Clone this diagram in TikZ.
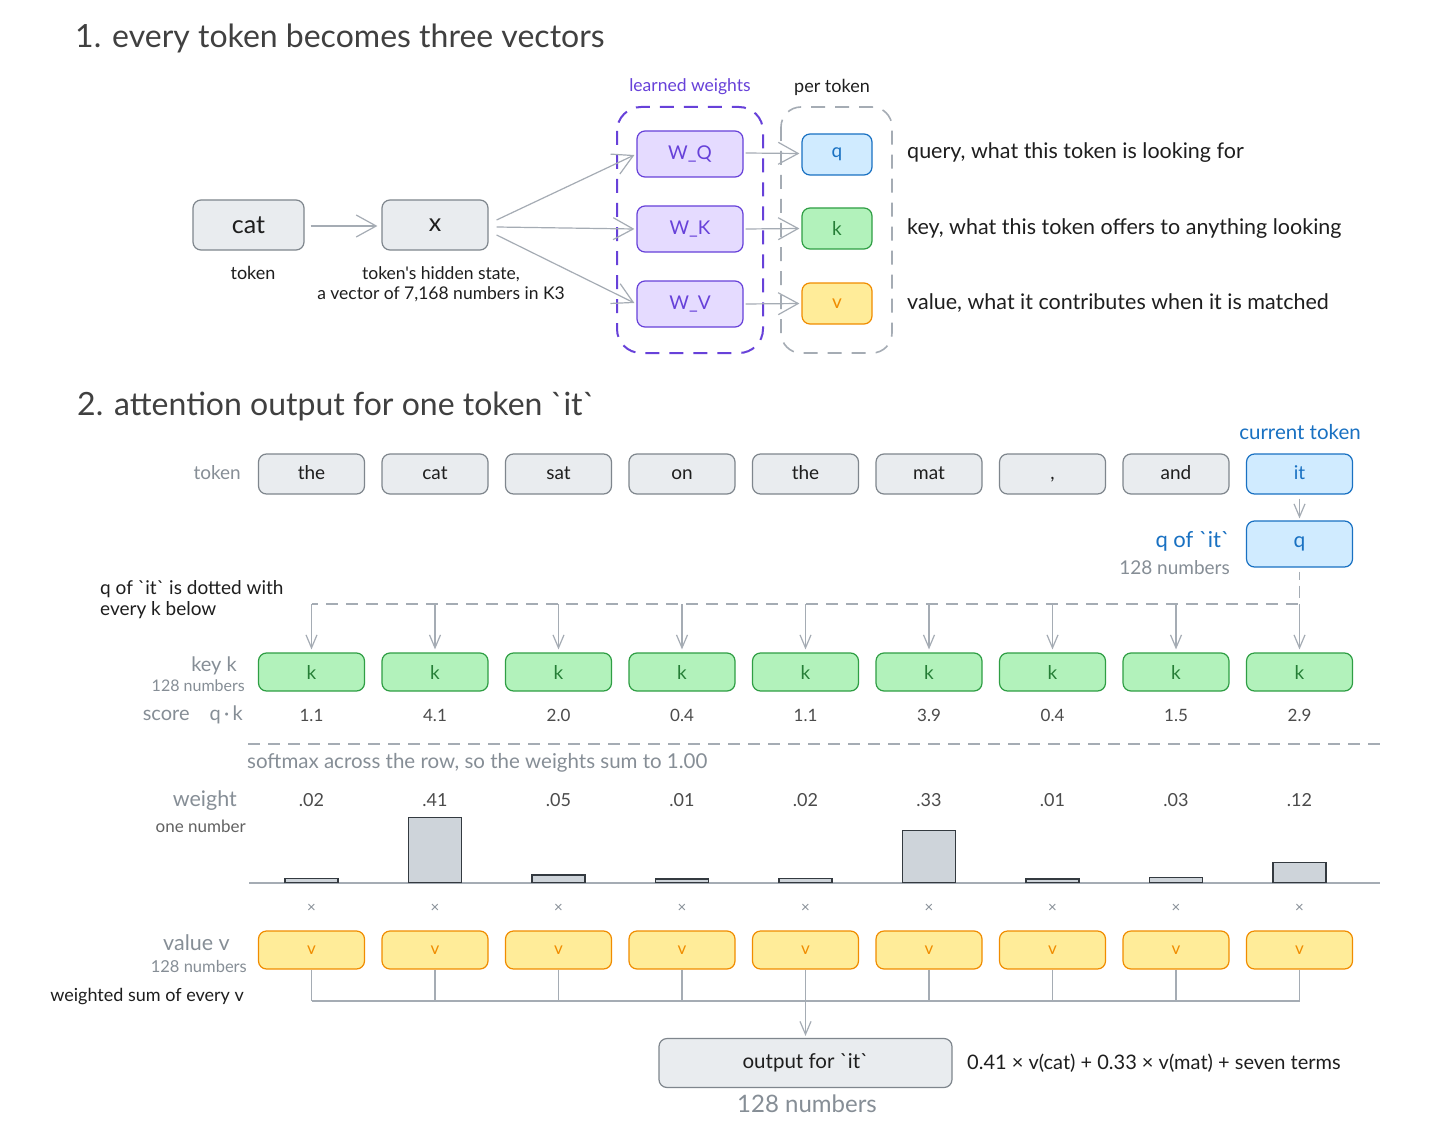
\documentclass[tikz,border=0pt]{standalone}
\usepackage{fontspec}
\setmainfont{Lato}[Ligatures=TeXOff]
\usetikzlibrary{arrows.meta,calc}
\definecolor{ink}{HTML}{1E1E1E}
\definecolor{gtext}{HTML}{868E96}
\definecolor{gfill}{HTML}{E9ECEF}
\definecolor{gline}{HTML}{7F868D}
\definecolor{arrc}{HTML}{A5ACB4}
\definecolor{pfill}{HTML}{E5DBFF}
\definecolor{pline}{HTML}{6741D9}
\definecolor{bfill}{HTML}{D0EBFF}
\definecolor{bline}{HTML}{1971C2}
\definecolor{kfill}{HTML}{B2F2BB}
\definecolor{kline}{HTML}{2F9E44}
\definecolor{vfill}{HTML}{FFEC99}
\definecolor{vline}{HTML}{F08C00}
\definecolor{barfill}{HTML}{CED4DA}
\definecolor{barline}{HTML}{343A40}
\newcommand{\fs}[1]{\fontsize{#1}{#1}\selectfont}
\newcommand{\bq}{\symbol{96}}
\begin{document}
\begin{tikzpicture}[x=1pt,y=-1pt,
  box/.style={draw, rounded corners=8pt, line width=1.2pt, inner sep=0pt, minimum width=106pt, minimum height=40pt, font=\fs{19}},
  graybox/.style={box, fill=gfill, draw=gline, text=ink},
  tokbox/.style={graybox, text height=13.5pt, text depth=3pt},
  pbox/.style={box, fill=pfill, draw=pline, text=pline, minimum height=46pt},
  qbox/.style={box, fill=bfill, draw=bline, text=bline},
  kbox/.style={box, fill=kfill, draw=kline, text=kline!80!black},
  vbox/.style={box, fill=vfill, draw=vline, text=vline},
  lbl/.style={inner sep=0pt, text=ink, font=\fs{17}},
  glbl/.style={inner sep=0pt, text=gtext, font=\fs{17}},
  title/.style={inner sep=0pt, text=ink!85!white, font=\fs{32}, anchor=west},
  bigarr/.style={draw=arrc, line width=1.2pt, -{Straight Barb[length=20pt,width=22pt,line width=1.2pt]}},
  smarr/.style={draw=arrc, line width=1.2pt, -{Straight Barb[length=13pt,width=11pt,line width=1.2pt]}},
  gline/.style={draw=arrc, line width=1.2pt},
  dashg/.style={draw=arrc, line width=1.6pt, dash pattern=on 12pt off 8pt},
  barn/.style={draw=barline, fill=barfill, line width=1.2pt, minimum width=53pt, inner sep=0pt, anchor=south},
]
\useasboundingbox[fill=white] (0,0) rectangle (1456,1134);

% ---------- Section 1 ----------
\node[title] (t1) at (75,38) {1. every token becomes three vectors};

\node[graybox, minimum width=111pt, minimum height=50pt, font=\fs{25}] (cat) at (248.5,225) {cat};
\node[lbl, font=\fs{18}] (cattxt) at (253,273) {token};
\node[graybox, minimum width=106pt, minimum height=50pt, font=\fs{25}] (xv) at (435,225) {x};
\node[lbl, align=center, font=\fs{17.5}] (xtxt) at (441,284) {token's hidden state,\\[3pt] a vector of 7,168 numbers in K3};

\draw[line width=2pt, draw=pline, dash pattern=on 14pt off 10pt, rounded corners=24pt] (617,107) rectangle (763,353);
\node[lbl, text=pline, font=\fs{17.5}] (lw) at (690,87) {learned weights};
\draw[line width=1.6pt, draw=arrc, dash pattern=on 14pt off 10pt, rounded corners=20pt] (781,107) rectangle (892,353);
\node[lbl, font=\fs{18}] (pt) at (832,87) {per token};

\node[pbox] (wq) at (690,154) {W\_Q};
\node[pbox] (wk) at (690,229) {W\_K};
\node[pbox] (wv) at (690,304) {W\_V};

\node[qbox, minimum width=70pt, minimum height=41pt] (q1) at (837,154.5) {q};
\node[kbox, minimum width=70pt, minimum height=41pt] (k1) at (837,228.5) {k};
\node[vbox, minimum width=70pt, minimum height=41pt] (v1) at (837,303.5) {v};

\draw[bigarr] ($(cat.east)+(6,1)$) -- ($(xv.west)+(-4,1)$);
\draw[bigarr] ($(xv.east)+(8,-5)$) -- ($(wq.west)+(-2,1)$);
\draw[bigarr] ($(xv.east)+(8,2)$) -- ($(wk.west)+(-2,0)$);
\draw[bigarr] ($(xv.east)+(8,10)$) -- ($(wv.west)+(-2,-1)$);
\draw[bigarr] ($(wq.east)+(2,-1)$) -- ($(q1.west)+(-2,-1)$);
\draw[bigarr] ($(wk.east)+(2,0)$) -- ($(k1.west)+(-2,0)$);
\draw[bigarr] ($(wv.east)+(2,0)$) -- ($(v1.west)+(-2,0)$);

\node[lbl, anchor=west, font=\fs{21.5}] (dq) at (907,153) {query, what this token is looking for};
\node[lbl, anchor=west, font=\fs{21.5}] (dk) at (907,229) {key, what this token offers to anything looking};
\node[lbl, anchor=west, font=\fs{21.5}] (dv) at (907,303) {value, what it contributes when it is matched};

% ---------- Section 2 ----------
\node[title] (t2) at (77,406) {2. attention output for one token \bq it\bq};

\node[glbl, anchor=east, font=\fs{19}] (ltok) at (241,473) {token};
\foreach \i/\tok in {1/the,2/cat,3/sat,4/on,5/the,6/mat,7/{,},8/and}{
  \node[tokbox] (tok\i) at ({311.5+123.5*(\i-1)},474) {\tok};
}
\node[qbox, text height=13.5pt, text depth=3pt] (tok9) at (1299.5,474) {it};
\node[lbl, text=bline, font=\fs{20.5}] (cur) at (1300,432) {current token};

\node[qbox, minimum height=46pt, font=\fs{21}] (qit) at (1299.5,544) {q};
\draw[smarr] ($(tok9.south)+(0,4)$) -- ($(qit.north)+(0,-2)$);
\node[lbl, text=bline, anchor=east, font=\fs{22}] (qlbl) at (1230,541) {q of \bq it\bq};
\node[glbl, anchor=east, font=\fs{19}] (qnum) at (1230,568) {128 numbers};

\node[lbl, anchor=north west, align=left, font=\fs{19}] (dotlbl) at (100,580) {q of \bq it\bq{} is dotted with\\[2pt] every k below};

\coordinate (hr) at (1299.5,604);
\coordinate (hl) at (311.5,604);
\draw[gline] ($(qit.south)+(0,4)$) -- ($(qit.south)+(0,12)$);
\draw[dashg] ($(qit.south)+(0,18)$) -- (hr) -- (hl);

\node[glbl, anchor=east, font=\fs{20}] (lkey) at (237,666) {key k};
\node[glbl, anchor=east, font=\fs{16}] (lkeyn) at (245,686) {128 numbers};
\node[glbl, anchor=east, font=\fs{20}] (lscore) at (243,715) {score\quad q\,·\,k};

\node[glbl, anchor=east, font=\fs{21.5}] (lw2) at (237,801) {weight};
\node[glbl, text=ink!70!white, anchor=east, font=\fs{17}] (lwn) at (246,826) {one number};

\draw[dashg] (248,744) -- (1381,744);
\node[glbl, anchor=west, font=\fs{20.5}] (smax) at (247,763) {softmax across the row, so the weights sum to 1.00};

\draw[draw=arrc, line width=1.6pt] (249,883) -- (1380,883);

\node[glbl, anchor=east, font=\fs{21.5}] (lval) at (230,943) {value v};
\node[glbl, anchor=east, font=\fs{16.5}] (lvaln) at (247,966) {128 numbers};
\node[lbl, anchor=east, font=\fs{18}] (lsum) at (244,997) {weighted sum of every v};

\foreach \i/\sc/\w/\h in {1/1.1/.02/4, 2/4.1/.41/65, 3/2.0/.05/7.5, 4/0.4/.01/3.5, 5/1.1/.02/4, 6/3.9/.33/52, 7/0.4/.01/3.5, 8/1.5/.03/5, 9/2.9/.12/20}{
  \pgfmathsetmacro{\cx}{311.5+123.5*(\i-1)}
  \node[kbox, minimum height=38pt] (key\i) at (\cx,672) {k};
  \draw[smarr] (\cx,604) -- ($(key\i.north)+(0,-3)$);
  \node[lbl, text=ink!80!white, font=\fs{17}] (sc\i) at (\cx,715) {\sc};
  \node[lbl, text=ink!80!white, font=\fs{18}] (w\i) at (\cx,800) {\w};
  \node[barn, minimum height=\h pt] (bar\i) at (\cx,883) {};
  \node[glbl, font=\fs{15}] (x\i) at (\cx,908) {×};
  \node[vbox, minimum height=38pt, font=\fs{17}] (val\i) at (\cx,950) {v};
  \draw[gline] (val\i.south) -- (\cx,1001);
}
\coordinate (sl) at (311.5,1001);
\coordinate (sr) at (1299.5,1001);
\coordinate (sm) at (805.5,1001);
\draw[gline] (sl) -- (sr);

\node[graybox, minimum width=293pt, minimum height=49pt, font=\fs{20.5}] (out) at (805.5,1063) {output for \bq it\bq};
\draw[smarr] (sm) -- ($(out.north)+(0,-2)$);
\node[glbl, font=\fs{24}] (outn) at (807,1104) {128 numbers};
\node[lbl, anchor=west, font=\fs{20}] (form) at (967,1063) {0.41 × v(cat) + 0.33 × v(mat) + seven terms};
\end{tikzpicture}
\end{document}
